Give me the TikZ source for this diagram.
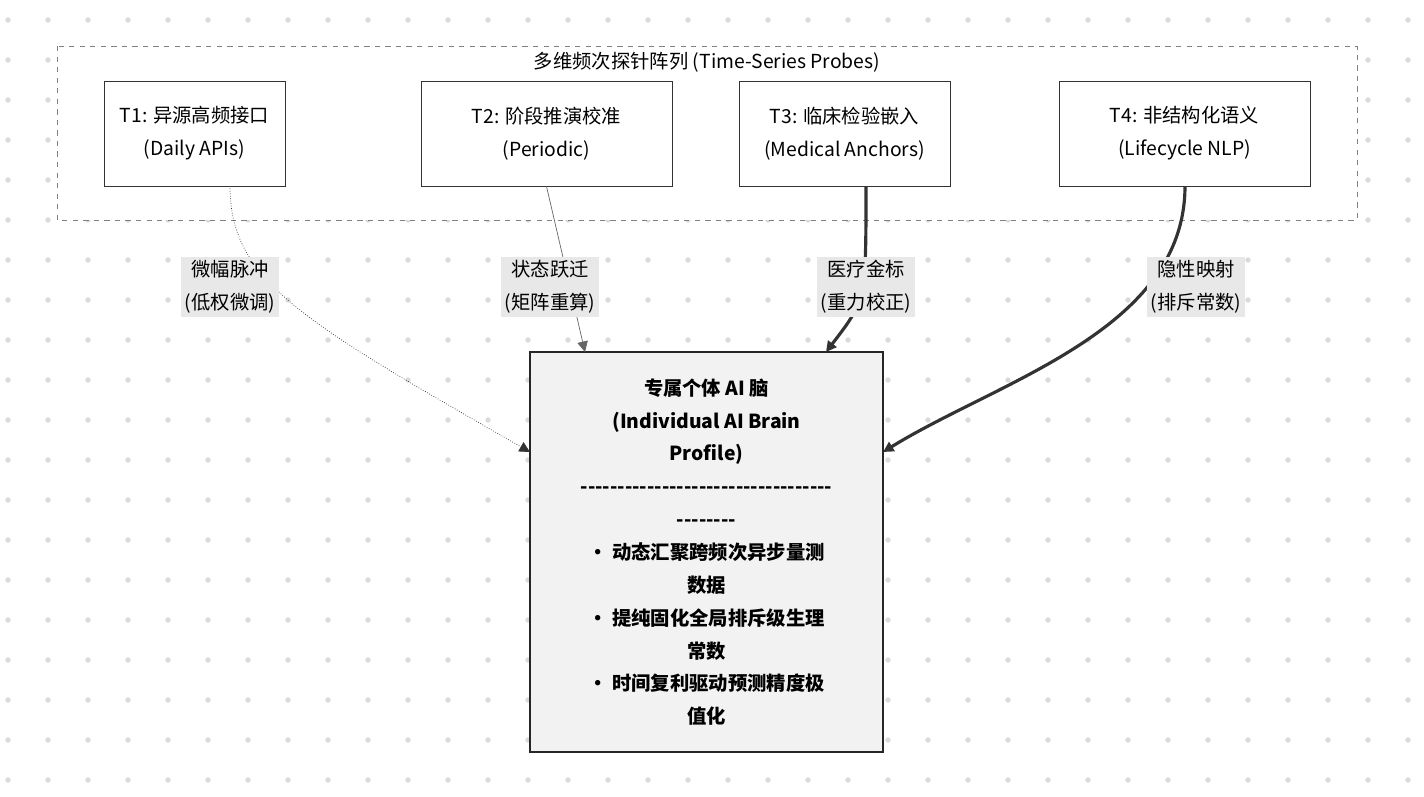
\documentclass[tikz,border=0pt]{standalone}
\usepackage{fontspec}
\setmainfont{Noto Sans CJK SC}
\usepackage{tikz}
\usetikzlibrary{arrows.meta}

\definecolor{lbl}{HTML}{E8E8E8}
\definecolor{brain}{HTML}{F2F2F2}

\tikzset{
    probe/.style = {draw=black!80, fill=white, minimum width=181*0.02cm, minimum height=105*0.02cm, align=center, font=\fontsize{11}{18.7}\selectfont},
    tag/.style = {fill=lbl, inner sep=2pt, align=center, font=\fontsize{11}{18.7}\selectfont},
    tip/.style = {-{Triangle[length=6pt,width=6pt]}}
}

\begin{document}
\begin{tikzpicture}[x=0.02cm, y=-0.02cm]
        \useasboundingbox (0,0) rectangle (1424,796);
        \fill[white] (0,0) rectangle (1424,796);

        % background dots
        \foreach \i in {0,...,35} {
            \foreach \j in {0,...,19} {
                \fill[black!15] (8+40*\i, 20+40*\j) circle (1.5pt);
            }
        }

        % cluster
        \draw[dashed, black!50, fill=white] (57,46) rectangle (1357,220);
        \node[font={\fontsize{11}{14}\selectfont}] (title) at (707,62) {多维频次探针阵列 (Time-Series Probes)};

        % probes
        \node[probe] (t1) at (194.5,133.5) {T1: 异源高频接口\\(Daily APIs)};
        \node[probe, minimum width=251*0.02cm] (t2) at (546.5,133.5) {T2: 阶段推演校准\\(Periodic)};
        \node[probe, minimum width=211*0.02cm] (t3) at (844.5,133.5) {T3: 临床检验嵌入\\(Medical Anchors)};
        \node[probe, minimum width=251*0.02cm] (t4) at (1184.5,133.5) {T4: 非结构化语义\\(Lifecycle NLP)};

        % brain
        \node[draw=black!85, line width=1.2pt, fill=brain, minimum width=353*0.02cm, minimum height=400*0.02cm, align=center, font={\bfseries\fontsize{11}{18.7}\selectfont}] (brain) at (706.5,552)
            {专属个体 AI 脑\\(Individual AI Brain\\Profile)\\-{}-{}-{}-{}-{}-{}-{}-{}-{}-{}-{}-{}-{}-{}-{}-{}-{}-{}-{}-{}-{}-{}-{}-{}-{}-{}-{}-{}-{}-{}-{}-{}-{}-{}\\-{}-{}-{}-{}-{}-{}-{}-{}\\• 动态汇聚跨频次异步量测\\数据\\• 提纯固化全局排斥级生理\\常数\\• 时间复利驱动预测精度极\\值化};

        % edges
        \coordinate (s1) at (230,186);
        \coordinate (s3) at (866,186);
        \coordinate (s4) at (1185,186);
        \coordinate (b1) at (530,452);
        \coordinate (b2) at (585,352);
        \coordinate (b3) at (826,352);
        \coordinate (b4) at (883,452);
        \draw[tip, densely dotted, black!80, thin] (s1) .. controls (230,280) and (300,320) .. (b1);
        \draw[tip, black!60, thin] (t2.south) -- (b2);
        \draw[tip, black!80, line width=1.8pt] (s3) .. controls (866,300) .. (b3);
        \draw[tip, black!80, line width=1.8pt] (s4) .. controls (1185,330) and (1000,380) .. (b4);

        % edge labels
        \node[tag] (l1) at (230,287) {微幅脉冲\\(低权微调)};
        \node[tag] (l2) at (550,287) {状态跃迁\\(矩阵重算)};
        \node[tag] (l3) at (866,287) {医疗金标\\(重力校正)};
        \node[tag] (l4) at (1196,287) {隐性映射\\(排斥常数)};
    \end{tikzpicture}
\end{document}
